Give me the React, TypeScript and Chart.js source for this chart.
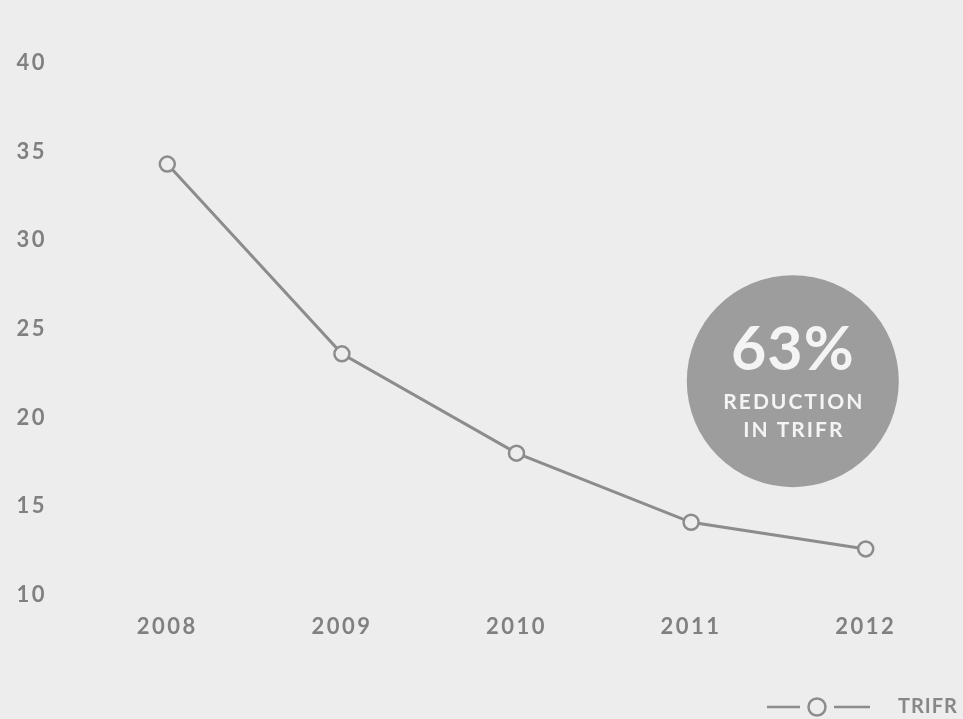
import React, { useEffect, useRef } from "react";
import { Chart, registerables } from "chart.js";

Chart.register(...registerables);

const years = ["2008", "2009", "2010", "2011", "2012"];
const trifr = [34.3, 23.6, 18.0, 14.1, 12.6];
const seriesLabel = "TRIFR";
const yTicks = [10, 15, 20, 25, 30, 35, 40];
const badgeValue = "63%";
const badgeLines = ["REDUCTION", "IN TRIFR"];

const BG = "#ededed";
const LINE = "#8c8c8c";
const TEXT = "#808080";
const FONT = "Lato, 'Open Sans', sans-serif";

const spacingPlugin = {
  id: "tickSpacing",
  beforeDraw(chart: any) {
    (chart.ctx as any).letterSpacing = "2.5px";
  },
  beforeDatasetsDraw(chart: any) {
    (chart.ctx as any).letterSpacing = "0px";
  },
};

const badgePlugin = {
  id: "badge",
  afterDatasetsDraw(chart: any) {
    const { ctx, chartArea } = chart;
    const cx = chartArea.left + (chartArea.right - chartArea.left) * 0.8165;
    const cy = chartArea.top + (chartArea.bottom - chartArea.top) * 0.598;
    const r = 106;
    ctx.save();
    (ctx as any).letterSpacing = "0px";
    ctx.beginPath();
    ctx.arc(cx, cy, r, 0, Math.PI * 2);
    ctx.fillStyle = "#9d9d9d";
    ctx.fill();
    ctx.fillStyle = "#f4f4f4";
    ctx.textAlign = "center";
    ctx.textBaseline = "middle";
    ctx.font = `bold 61px ${FONT}`;
    (ctx as any).letterSpacing = "1px";
    ctx.fillText(badgeValue, cx, cy - 31);
    ctx.font = `bold 21px ${FONT}`;
    (ctx as any).letterSpacing = "2px";
    ctx.fillText(badgeLines[0], cx + 1, cy + 21);
    ctx.fillText(badgeLines[1], cx + 1, cy + 49);
    ctx.restore();
  },
};

const legendPlugin = {
  id: "customLegend",
  afterDraw(chart: any) {
    const { ctx, width, height } = chart;
    const y = height - 12;
    const xText = width - 65;
    ctx.save();
    (ctx as any).letterSpacing = "1px";
    ctx.strokeStyle = LINE;
    ctx.lineWidth = 2.5;
    ctx.beginPath();
    ctx.moveTo(xText - 131, y);
    ctx.lineTo(xText - 98, y);
    ctx.moveTo(xText - 64, y);
    ctx.lineTo(xText - 28, y);
    ctx.stroke();
    ctx.beginPath();
    ctx.arc(xText - 81, y, 8.5, 0, Math.PI * 2);
    ctx.fillStyle = BG;
    ctx.fill();
    ctx.stroke();
    ctx.fillStyle = "#888888";
    ctx.font = `bold 20px ${FONT}`;
    ctx.textAlign = "left";
    ctx.textBaseline = "middle";
    ctx.fillText(seriesLabel, xText, y);
    ctx.restore();
  },
};

export default function App() {
  const ref = useRef<HTMLCanvasElement>(null);
  useEffect(() => {
    const chart = new Chart(ref.current!, {
      type: "line",
      data: {
        labels: years,
        datasets: [
          {
            label: seriesLabel,
            data: trifr,
            borderColor: LINE,
            borderWidth: 3,
            pointRadius: 7.5,
            pointBorderWidth: 2.5,
            pointBackgroundColor: BG,
            pointBorderColor: LINE,
            pointStyle: "circle",
            tension: 0,
          },
        ],
      },
      options: {
        animation: false,
        responsive: false,
        events: [],
        layout: { padding: { top: 63, right: 7.5, left: 0, bottom: 0 } },
        plugins: {
          tooltip: { enabled: false },
          legend: { display: false },
        },
        scales: {
          x: {
            offset: true,
            grid: { display: false, drawTicks: false },
            border: { display: false },
            ticks: {
              color: TEXT,
              font: { family: FONT, size: 22, weight: "bold" },
              padding: 19,
            },
            afterFit: (s: any) => {
              s.height = 124;
            },
          },
          y: {
            min: 10,
            max: 40,
            grid: { display: false, drawTicks: false },
            border: { display: false },
            afterBuildTicks: (s: any) => {
              s.ticks = yTicks.map((v) => ({ value: v }));
            },
            ticks: {
              color: TEXT,
              font: { family: FONT, size: 22, weight: "bold" },
              padding: 33,
            },
            afterFit: (s: any) => {
              s.width = 80;
            },
          },
        },
      },
      plugins: [spacingPlugin, badgePlugin, legendPlugin],
    } as any);
    return () => chart.destroy();
  }, []);
  return (
    <div
      style={{
        position: "fixed",
        left: 0,
        top: 0,
        width: 963,
        height: 719,
        background: BG,
        overflow: "hidden",
      }}
    >
      <canvas ref={ref} width={963} height={719} style={{ display: "block" }} />
    </div>
  );
}
